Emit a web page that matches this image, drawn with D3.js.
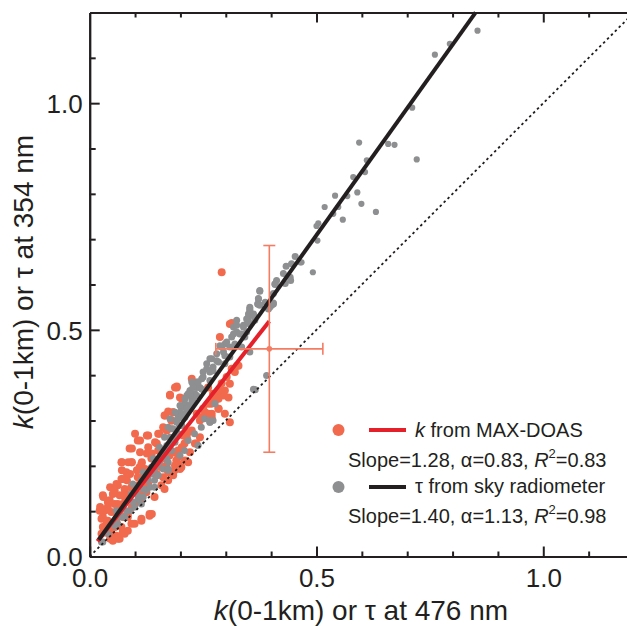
<!DOCTYPE html>
<html><head><meta charset="utf-8">
<script src="https://cdn.jsdelivr.net/npm/d3@7"></script>
<style>
html,body{margin:0;padding:0;background:#fff;}
svg{display:block;font-family:"Liberation Sans",Arial,Helvetica,sans-serif;}
</style></head>
<body>
<svg id="chart" width="627" height="626"></svg>
<script>
// ---------- data ----------
const xDomain = [0, 1.2];
const yDomain = [0, 1.2];
const majorTicks = [0.0, 0.5, 1.0];
const minorTicks = [0.1, 0.2, 0.3, 0.4, 0.6, 0.7, 0.8, 0.9, 1.1];
const tickLabels = ["0.0", "0.5", "1.0"];

// MAX-DOAS k(0-1km) vs tau476 (orange)
const maxdoasPoints = [
[0.291,0.627],
[0.313,0.515],[0.287,0.484],[0.225,0.392],[0.192,0.373],[0.199,0.351],[0.328,0.421],[0.320,0.407],[0.309,0.381],[0.298,0.366],[0.287,0.359],[0.284,0.348],[0.306,0.351],[0.272,0.351],
[0.309,0.513],[0.325,0.421],[0.309,0.296],[0.284,0.326],[0.293,0.360],[0.272,0.359],[0.203,0.348],[0.166,0.311],[0.111,0.256],[0.085,0.208],[0.030,0.131],[0.137,0.094],[0.206,0.267],[0.184,0.230],[0.166,0.216],[0.148,0.179],[0.126,0.153],[0.111,0.124],[0.093,0.109],[0.074,0.087],[0.056,0.065],[0.045,0.039],[0.100,0.271],[0.126,0.227],[0.071,0.190],[0.045,0.153],[0.078,0.142],[0.023,0.109],[0.037,0.079],[0.082,0.168],[0.148,0.249],[0.170,0.278],[0.261,0.373],[0.291,0.382],
[0.070,0.208],[0.092,0.208],[0.110,0.197],[0.084,0.182],[0.070,0.171],[0.106,0.175],[0.118,0.190],[0.062,0.157],[0.077,0.149],[0.092,0.153],[0.051,0.138],[0.066,0.135],[0.084,0.131],[0.029,0.135],[0.040,0.120],[0.055,0.116],[0.073,0.116],[0.033,0.101],[0.048,0.098],[0.066,0.101],[0.026,0.083],[0.040,0.079],[0.059,0.083],[0.029,0.065],[0.044,0.061],[0.026,0.050],[0.059,0.046],[0.073,0.054],[0.084,0.057],[0.051,0.035],[0.066,0.039],[0.099,0.072],[0.114,0.079],[0.132,0.094],[0.143,0.131],[0.158,0.157],[0.173,0.168],[0.187,0.190],[0.195,0.204],[0.169,0.201],[0.147,0.182],[0.129,0.160],[0.114,0.138],[0.099,0.116],[0.084,0.094],
[0.192,0.375],[0.177,0.357],[0.184,0.318],[0.181,0.300],[0.162,0.285],[0.151,0.271],[0.126,0.267],[0.144,0.252],[0.093,0.238],[0.129,0.241],[0.111,0.230],[0.137,0.227],[0.071,0.208],[0.093,0.208],[0.115,0.208],[0.104,0.190],[0.122,0.193],[0.089,0.182],[0.111,0.175],[0.287,0.366],[0.295,0.355],[0.258,0.315],[0.243,0.300],[0.269,0.307],[0.225,0.278],[0.243,0.263],[0.214,0.263],[0.232,0.249],[0.203,0.241],[0.221,0.230],[0.195,0.219],[0.210,0.212],[0.188,0.201],[0.199,0.193],[0.173,0.186],[0.184,0.179],[0.162,0.175],[0.298,0.315],[0.236,0.315],
[0.165,0.311],[0.180,0.300],[0.154,0.271],[0.129,0.267],[0.106,0.256],[0.088,0.238],[0.114,0.204],[0.136,0.216],[0.151,0.234],[0.073,0.171],[0.055,0.146],[0.040,0.109],[0.029,0.087],[0.033,0.065],[0.048,0.050],[0.070,0.065],[0.084,0.087],[0.132,0.090],[0.165,0.149],[0.202,0.197],[0.217,0.208],[0.191,0.212],[0.176,0.223],[0.195,0.234],[0.209,0.249],[0.235,0.249],[0.217,0.274],[0.173,0.320],[0.268,0.337],[0.250,0.326],[0.261,0.315],[0.106,0.157],[0.125,0.142],[0.147,0.182],[0.158,0.197],[0.062,0.116],[0.077,0.131],[0.092,0.153],[0.081,0.186],[0.059,0.160],[0.044,0.124],[0.022,0.101],[0.066,0.090],[0.062,0.039],[0.077,0.050],[0.092,0.072],[0.114,0.083],
[0.313,0.414],[0.302,0.396],[0.188,0.373],[0.177,0.355],[0.280,0.348],[0.261,0.337],[0.284,0.326],[0.254,0.318],[0.269,0.315],[0.184,0.318],[0.247,0.307]
];

// Sky radiometer tau354 vs tau476 (gray)
const skyradPoints = [
[0.855,1.160],[0.794,1.131],[0.761,1.107],[0.711,0.990],[0.594,0.913],[0.658,0.910],[0.672,0.908],[0.721,0.876],[0.611,0.874],[0.607,0.848],[0.581,0.837],[0.590,0.803],[0.568,0.795],[0.541,0.796],[0.599,0.778],[0.631,0.760],[0.518,0.771],[0.548,0.771],[0.537,0.756],[0.558,0.743],[0.504,0.735],[0.500,0.729],[0.502,0.697],[0.467,0.649],[0.492,0.627],
[0.453,0.662],[0.464,0.649],[0.445,0.646],[0.433,0.640],[0.427,0.624],[0.442,0.616],[0.443,0.609],[0.412,0.609],[0.431,0.602],[0.409,0.600],[0.375,0.585],[0.405,0.580],[0.372,0.568],[0.387,0.561],[0.405,0.559],[0.370,0.557],[0.353,0.546],[0.350,0.535],[0.361,0.532],[0.346,0.524],[0.397,0.550],
[0.390,0.399],[0.365,0.368],[0.272,0.300],
[0.401,0.554],[0.373,0.556],[0.353,0.550],[0.361,0.535],[0.350,0.528],[0.353,0.513],[0.364,0.521],[0.339,0.510],[0.317,0.506],[0.324,0.495],[0.335,0.491],[0.346,0.495],[0.313,0.484],[0.298,0.469],[0.291,0.462],[0.309,0.462],[0.280,0.447],[0.298,0.443],[0.269,0.436],[0.284,0.429],[0.258,0.425],[0.272,0.418],[0.265,0.407],[0.250,0.407],[0.247,0.392],[0.236,0.385],[0.228,0.377],[0.243,0.373],[0.221,0.366],[0.232,0.359],[0.214,0.355],[0.225,0.348],[0.324,0.521],
[0.225,0.385],[0.236,0.373],[0.217,0.359],[0.228,0.348],[0.210,0.337],[0.221,0.326],[0.199,0.318],[0.210,0.307],[0.192,0.300],[0.203,0.289],[0.184,0.282],[0.195,0.271],[0.177,0.263],[0.188,0.252],[0.170,0.245],[0.181,0.234],[0.162,0.230],[0.155,0.216],[0.170,0.216],[0.148,0.201],[0.137,0.190],[0.129,0.179],[0.276,0.337],[0.265,0.296],[0.239,0.245],[0.199,0.223],[0.173,0.193],
[0.029,0.032],[0.040,0.050],[0.062,0.072],[0.077,0.087],[0.088,0.101],[0.099,0.109],[0.106,0.124],[0.118,0.131],[0.125,0.146],[0.132,0.153],[0.143,0.168],[0.151,0.179],[0.162,0.193],[0.173,0.208],[0.059,0.101],[0.092,0.138],[0.114,0.168],[0.136,0.197],
[0.026,0.032],[0.055,0.068],[0.070,0.087],[0.081,0.101],[0.095,0.120],[0.106,0.135],[0.118,0.149],[0.129,0.168],[0.136,0.182],[0.143,0.193],[0.154,0.208],[0.162,0.223],[0.169,0.234],[0.176,0.249],[0.184,0.263],[0.191,0.274],[0.198,0.289],[0.206,0.304],[0.213,0.318],[0.220,0.333],
[0.114,0.116],[0.143,0.153],[0.173,0.190],[0.209,0.234],[0.217,0.256],[0.231,0.271],[0.246,0.285],[0.253,0.304],[0.265,0.296],[0.276,0.337],
[0.095,0.160],[0.118,0.186],[0.140,0.216],[0.154,0.241],[0.165,0.263],[0.180,0.282],[0.195,0.307],[0.202,0.329],
[0.375,0.587],[0.372,0.569],[0.375,0.554],[0.394,0.546],[0.405,0.557],[0.353,0.543],[0.364,0.528],[0.350,0.517],[0.339,0.506],[0.324,0.510],[0.331,0.491],[0.317,0.491],[0.342,0.484],[0.302,0.473],[0.320,0.469],[0.335,0.462],[0.353,0.451],[0.287,0.465],[0.295,0.451],[0.309,0.440],[0.265,0.436],[0.280,0.432],[0.298,0.425],[0.258,0.414],[0.272,0.410],[0.250,0.396],[0.265,0.388],[0.239,0.385],[0.228,0.373],[0.247,0.369],[0.221,0.359],[0.236,0.355],[0.210,0.348],[0.225,0.340],[0.199,0.333],[0.214,0.326],[0.188,0.318],[0.203,0.311],[0.177,0.304],[0.192,0.296],[0.173,0.285],[0.265,0.300],[0.361,0.369],[0.408,0.601]
];

// regression lines: [slope, intercept, xStart, xEnd]
const maxdoasFit = [1.28, 0.012, 0.017, 0.396];
const skyradFit = [1.40, 0.009, 0.020, 0.851];
// mean with error bars: [x, y, xErr, yErr]
const maxdoasMean = [0.396, 0.458, 0.118, 0.228];

const legendLabels = ["from MAX-DOAS", "τ from sky radiometer"];
const statsMaxdoas = ["1.28", "0.83", "0.83"];
const statsSkyrad = ["1.40", "1.13", "0.98"];

// ---------- drawing ----------
const ORANGE = "#f26a4d", GRAY = "#8e8f91", RED = "#e4202a", BLACK = "#231f20", ERR = "#f47c62";
const svg = d3.select("#chart");
const x = d3.scaleLinear().domain(xDomain).range([89.7, 634]);
const y = d3.scaleLinear().domain(yDomain).range([556.5, 12.5]);

const plot = svg.append("g");

// points
plot.append("g").selectAll("circle").data(maxdoasPoints).join("circle")
  .attr("cx", d => x(d[0])).attr("cy", d => y(d[1])).attr("r", 4).attr("fill", ORANGE);
plot.append("g").selectAll("circle").data(skyradPoints).join("circle")
  .attr("cx", d => x(d[0])).attr("cy", d => y(d[1])).attr("r", d => d[0] > 0.46 ? 3.1 : 3.5).attr("fill", GRAY);

// 1:1 line
plot.append("line").attr("x1", x(0)).attr("y1", y(0)).attr("x2", x(1.2)).attr("y2", y(1.2))
  .attr("stroke", BLACK).attr("stroke-width", 1.8).attr("stroke-dasharray", "2.5,3");

// fits
function fitLine(f, col) {
  plot.append("line")
    .attr("x1", x(f[2])).attr("y1", y(f[0]*f[2]+f[1]))
    .attr("x2", x(f[3])).attr("y2", y(f[0]*f[3]+f[1]))
    .attr("stroke", col).attr("stroke-width", 4);
}
fitLine(maxdoasFit, RED);
fitLine(skyradFit, BLACK);

// error bars
const [mx, my, ex, ey] = maxdoasMean;
const eb = plot.append("g").attr("stroke", ERR).attr("stroke-width", 1.6);
eb.append("line").attr("x1", x(mx-ex)).attr("x2", x(mx+ex)).attr("y1", y(my)).attr("y2", y(my));
eb.append("line").attr("x1", x(mx)).attr("x2", x(mx)).attr("y1", y(my-ey)).attr("y2", y(my+ey));
eb.append("line").attr("x1", x(mx-ex)).attr("x2", x(mx-ex)).attr("y1", y(my)-6).attr("y2", y(my)+6);
eb.append("line").attr("x1", x(mx+ex)).attr("x2", x(mx+ex)).attr("y1", y(my)-6).attr("y2", y(my)+6);
eb.append("line").attr("x1", x(mx)-6).attr("x2", x(mx)+6).attr("y1", y(my-ey)).attr("y2", y(my-ey));
eb.append("line").attr("x1", x(mx)-6).attr("x2", x(mx)+6).attr("y1", y(my+ey)).attr("y2", y(my+ey));
plot.append("circle").attr("cx", x(mx)).attr("cy", y(my)).attr("r", 2.8).attr("fill", ERR);

// axes
function styleAxis(g, sw) {
  g.selectAll("path.domain").attr("stroke", BLACK).attr("stroke-width", 2);
  g.selectAll("line").attr("stroke", BLACK).attr("stroke-width", sw);
}
const fmt = (d) => tickLabels[majorTicks.indexOf(d)];

// bottom
const gb = svg.append("g").attr("transform", `translate(0,${y(0)})`);
gb.call(d3.axisBottom(x).tickValues(majorTicks).tickFormat(fmt).tickSizeInner(-10).tickSizeOuter(0));
styleAxis(gb, 2);
gb.selectAll("text").attr("y", 30).attr("dy", 0).attr("font-size", 26).attr("fill", BLACK)
  .attr("font-family", "Liberation Sans, Arial, sans-serif");
const gbm = svg.append("g").attr("transform", `translate(0,${y(0)})`);
gbm.call(d3.axisBottom(x).tickValues(minorTicks).tickFormat("").tickSizeInner(-5).tickSizeOuter(0));
styleAxis(gbm, 2);

// top
const gt = svg.append("g").attr("transform", `translate(0,${y(1.2)})`);
gt.call(d3.axisTop(x).tickValues(majorTicks.filter(d => d > 0)).tickFormat("").tickSizeInner(-10).tickSizeOuter(0));
styleAxis(gt, 2);
const gtm = svg.append("g").attr("transform", `translate(0,${y(1.2)})`);
gtm.call(d3.axisTop(x).tickValues(minorTicks).tickFormat("").tickSizeInner(-5).tickSizeOuter(0));
styleAxis(gtm, 2);

// left
const gl = svg.append("g").attr("transform", `translate(${x(0)},0)`);
gl.call(d3.axisLeft(y).tickValues(majorTicks).tickFormat(fmt).tickSizeInner(-10).tickSizeOuter(0));
styleAxis(gl, 2);
gl.selectAll("text").attr("x", -7).attr("dy", "0.36em").attr("font-size", 26).attr("fill", BLACK)
  .attr("font-family", "Liberation Sans, Arial, sans-serif");
const glm = svg.append("g").attr("transform", `translate(${x(0)},0)`);
glm.call(d3.axisLeft(y).tickValues(minorTicks).tickFormat("").tickSizeInner(-6).tickSizeOuter(0));
styleAxis(glm, 2);

// axis titles
const xt = svg.append("text").attr("x", 361).attr("y", 620).attr("text-anchor", "middle")
  .attr("font-size", 28).attr("fill", BLACK);
xt.append("tspan").attr("font-style", "italic").text("k");
xt.append("tspan").text("(0-1km) or τ at 476 nm");

const yt = svg.append("text").attr("transform", "translate(32.5,282) rotate(-90)").attr("text-anchor", "middle")
  .attr("font-size", 28).attr("fill", BLACK);
yt.append("tspan").attr("font-style", "italic").text("k");
yt.append("tspan").text("(0-1km) or τ at 354 nm");

// legend
const lg = svg.append("g").attr("font-size", 20).attr("fill", BLACK);
lg.append("circle").attr("cx", 338.5).attr("cy", 430).attr("r", 6).attr("fill", ORANGE);
lg.append("line").attr("x1", 369).attr("x2", 406).attr("y1", 430).attr("y2", 430).attr("stroke", RED).attr("stroke-width", 4);
const l1 = lg.append("text").attr("x", 415).attr("y", 437);
l1.append("tspan").attr("font-style", "italic").text("k");
l1.append("tspan").text(" " + legendLabels[0]);

function statLine(yy, s) {
  const t = lg.append("text").attr("x", 348).attr("y", yy);
  t.append("tspan").text(`Slope=${s[0]}, α=${s[1]}, `);
  t.append("tspan").attr("font-style", "italic").text("R");
  t.append("tspan").attr("font-size", 13).attr("dy", -9).text("2");
  t.append("tspan").attr("dy", 9).text(`=${s[2]}`);
}
statLine(467, statsMaxdoas);

lg.append("circle").attr("cx", 338.5).attr("cy", 487).attr("r", 6).attr("fill", GRAY);
lg.append("line").attr("x1", 369).attr("x2", 406).attr("y1", 487).attr("y2", 487).attr("stroke", BLACK).attr("stroke-width", 4);
lg.append("text").attr("x", 415).attr("y", 493).text(legendLabels[1]);
statLine(523, statsSkyrad);
</script>
</body></html>
